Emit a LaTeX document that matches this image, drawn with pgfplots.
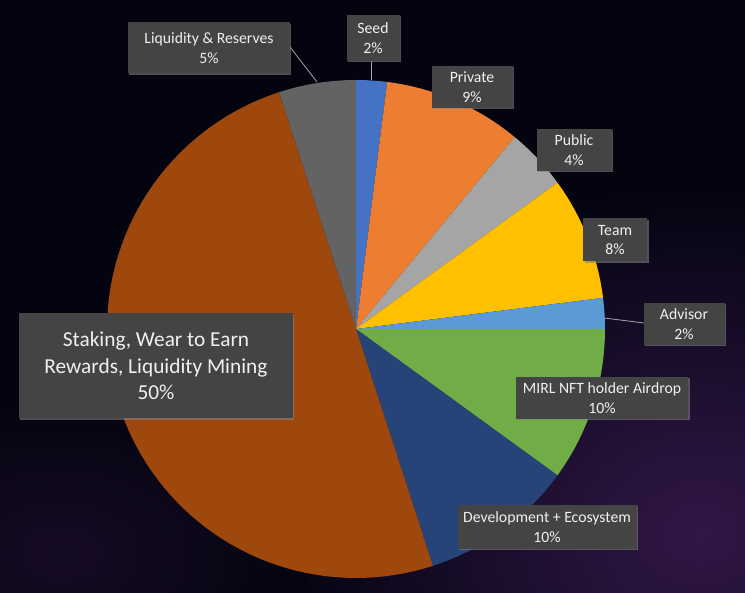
\documentclass[border=0pt]{standalone}
\usepackage{pgfplots}
\pgfplotsset{compat=1.18}
\usepackage{fontspec}
\setmainfont{Carlito}
\usetikzlibrary{shadows}
\definecolor{cSeed}{HTML}{4472C4}
\definecolor{cPriv}{HTML}{ED7D31}
\definecolor{cPub}{HTML}{A5A5A5}
\definecolor{cTeam}{HTML}{FFC000}
\definecolor{cAdv}{HTML}{5B9BD5}
\definecolor{cMirl}{HTML}{70AD47}
\definecolor{cDev}{HTML}{264478}
\definecolor{cStak}{HTML}{9E480E}
\definecolor{cLiq}{HTML}{636363}
\definecolor{boxc}{HTML}{444444}
\definecolor{bgA}{HTML}{03040F}
\definecolor{bgB}{HTML}{34184A}
% slice: cumulative start (percent), value (percent), colour
\newcommand{\slice}[3]{%
  \addplot[fill=#3, draw=none, domain={90-3.6*(#1+#2)}:{90-3.6*#1}, samples=80, variable=\t]
    ({356+249*cos(\t)},{264+249*sin(\t)}) -- (axis cs:356,264) -- cycle;
}
\tikzset{lbl/.style={fill=boxc, text=white!94!black, align=center, inner sep=0pt,
  font=\fontsize{15.8}{19.5}\selectfont, drop shadow={opacity=0.6, shadow xshift=1.5pt, shadow yshift=-1.5pt}}}
\begin{document}
\begin{tikzpicture}
\begin{axis}[
  width=745bp, height=593bp, scale only axis,
  xmin=0, xmax=745, ymin=0, ymax=593,
  hide axis, clip=false]
  \begin{scope}
  \clip (axis cs:0,0) rectangle (axis cs:745,593);
  \fill[bgA] (axis cs:0,0) rectangle (axis cs:745,593);
  \shade[inner color=bgB, outer color=bgA, opacity=0.95] (axis cs:700,60) ellipse [x radius=440bp, y radius=360bp];
  \shade[inner color=bgB!70!black, outer color=bgA, opacity=0.6] (axis cs:60,40) ellipse [x radius=250bp, y radius=160bp];
  \end{scope}
  \slice{0}{2}{cSeed}
  \slice{2}{9}{cPriv}
  \slice{11}{4}{cPub}
  \slice{15}{8}{cTeam}
  \slice{23}{2}{cAdv}
  \slice{25}{10}{cMirl}
  \slice{35}{10}{cDev}
  \slice{45}{50}{cStak}
  \slice{95}{5}{cLiq}
  % leader lines
  \draw[gray!70, line width=0.8pt] (axis cs:290,546) -- (axis cs:317,511);
  \draw[gray!70, line width=0.8pt] (axis cs:371,533) -- (axis cs:371,513);
  \draw[gray!70, line width=0.8pt] (axis cs:604,275) -- (axis cs:644,270);
  % labels
  \node[lbl, minimum width=162bp, minimum height=51bp] at (axis cs:209,545) {Liquidity \& Reserves\\5\%};
  \node[lbl, minimum width=53bp, minimum height=46bp] at (axis cs:373,555) {Seed\\2\%};
  \node[lbl, minimum width=81bp, minimum height=42bp] at (axis cs:472,506) {Private\\9\%};
  \node[lbl, minimum width=75bp, minimum height=42bp] at (axis cs:574,443) {Public\\4\%};
  \node[lbl, minimum width=64bp, minimum height=43bp] at (axis cs:615,353) {Team\\8\%};
  \node[lbl, minimum width=81bp, minimum height=42bp] at (axis cs:684,269) {Advisor\\2\%};
  \node[lbl, minimum width=172bp, minimum height=42bp] at (axis cs:602,195) {MIRL NFT holder Airdrop\\10\%};
  \node[lbl, minimum width=179bp, minimum height=44bp] at (axis cs:547,66) {Development + Ecosystem\\10\%};
  \node[lbl, minimum width=274bp, minimum height=105bp, font=\fontsize{21.4}{26.5}\selectfont] at (axis cs:156,227) {Staking, Wear to Earn\\Rewards, Liquidity Mining\\50\%};
\end{axis}
\end{tikzpicture}
\end{document}
